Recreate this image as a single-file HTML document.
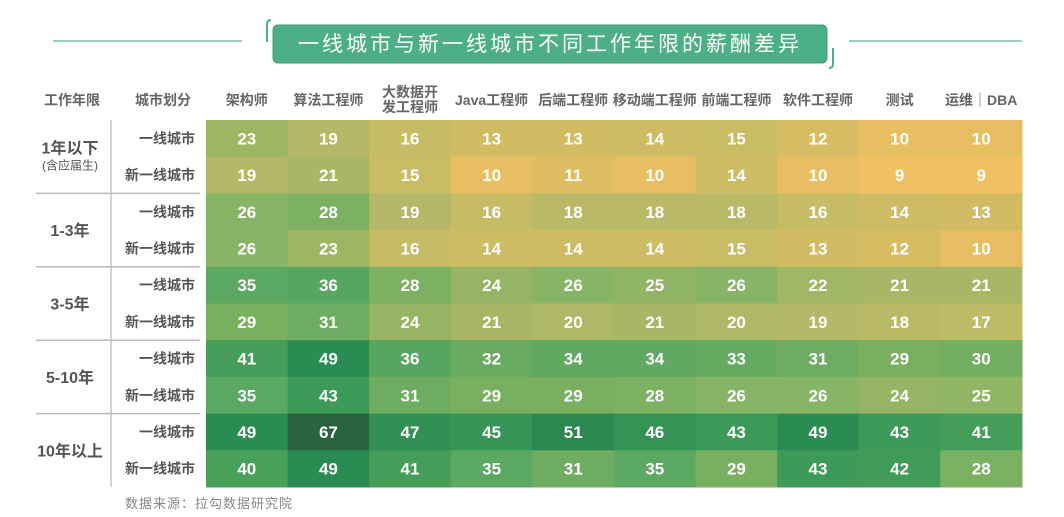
<!DOCTYPE html>
<html><head><meta charset="utf-8"><style>
body{margin:0;background:#fff;font-family:"Liberation Sans","Noto Sans CJK SC",sans-serif;}
#c{position:relative;width:1064px;height:517px;overflow:hidden;background:#fff}
</style></head><body>
<div id="c">
<svg id="s" width="1064" height="517">
  <line x1="53" y1="41" x2="242" y2="41" stroke="#7cc0a6" stroke-width="1.5"/>
  <line x1="849" y1="41" x2="1022" y2="41" stroke="#7cc0a6" stroke-width="1.5"/>
  <path d="M267 42 L267 24 Q267 20 271 20" fill="none" stroke="#4caf88" stroke-width="2"/>
  <path d="M833 48 L833 64 Q833 68 829 68" fill="none" stroke="#4caf88" stroke-width="2"/>
  <rect x="273" y="25" width="554" height="38" rx="5" fill="#4caf88" stroke="#3e9e78" stroke-width="1"/>
  <text x="550" y="51" text-anchor="middle" font-size="21" fill="#fff" letter-spacing="3">一线城市与新一线城市不同工作年限的薪酬差异</text>
  <text x="72" y="105" text-anchor="middle" font-size="14" font-weight="bold" fill="#666">工作年限</text>
  <text x="163" y="105" text-anchor="middle" font-size="14" font-weight="bold" fill="#666">城市划分</text>
  <line x1="111" y1="120" x2="111" y2="487" stroke="#aaa" stroke-width="1"/>
  <g id="cells"></g>
  <text x="125" y="508" font-size="13" fill="#888" letter-spacing="1">数据来源：拉勾数据研究院</text>
</svg>
</div>
<script>
const roles=["架构师","算法工程师","大数据开发工程师","Java工程师","后端工程师","移动端工程师","前端工程师","软件工程师","测试","运维｜DBA"];
const groups=["1年以下","1-3年","3-5年","5-10年","10年以上"];
const cities=["一线城市","新一线城市"];
const row1=[23,19,16,13,13,14,15,12,10,10];
const row2=[19,21,15,10,11,10,14,10,9,9];
const row3=[26,28,19,16,18,18,18,16,14,13];
const row4=[26,23,16,14,14,14,15,13,12,10];
const row5=[35,36,28,24,26,25,26,22,21,21];
const row6=[29,31,24,21,20,21,20,19,18,17];
const row7=[41,49,36,32,34,34,33,31,29,30];
const row8=[35,43,31,29,29,28,26,26,24,25];
const row9=[49,67,47,45,51,46,43,49,43,41];
const row10=[40,49,41,35,31,35,29,43,42,28];
const rows=[row1,row2,row3,row4,row5,row6,row7,row8,row9,row10];
const NS="http://www.w3.org/2000/svg";
const g=document.getElementById('cells');
const x0=206,x1=1022,y0=120,y1=487;
const cw=(x1-x0)/roles.length, rh=(y1-y0)/rows.length;
const xPos=i=>x0+i*cw, yPos=j=>y0+j*rh;
const stops=[[9,[240,192,98]],[12,[214,188,98]],[16,[198,188,102]],[19,[180,184,104]],[23,[156,182,100]],[26,[136,180,102]],[29,[120,176,96]],[35,[90,168,98]],[41,[68,158,90]],[49,[42,140,82]],[67,[42,100,62]]];
function color(v){
  if(v<=stops[0][0])return 'rgb('+stops[0][1]+')';
  for(let k=1;k<stops.length;k++){if(v<=stops[k][0]){const a=stops[k-1],b=stops[k];const t=(v-a[0])/(b[0]-a[0]);return 'rgb('+a[1].map((c,i)=>Math.round(c+(b[1][i]-c)*t)).join(',')+')';}}
  return 'rgb('+stops[stops.length-1][1]+')';
}
function mk(tag,attrs){const e=document.createElementNS(NS,tag);for(const k in attrs)e.setAttribute(k,attrs[k]);return e;}
roles.forEach((r,i)=>{
  const cx=xPos(i)+cw/2;
  if(r==="大数据开发工程师"){
    const t=mk('text',{x:cx,y:97,'text-anchor':'middle','font-size':14,'font-weight':'bold',fill:'#666'});
    
    
    t.textContent="大数据开";g.appendChild(t);
    const t2=mk('text',{x:cx,y:112,'text-anchor':'middle','font-size':14,'font-weight':'bold',fill:'#666'});
    
    
    t2.textContent="发工程师";g.appendChild(t2);
  }else{
    const t=mk('text',{x:cx,y:105,'text-anchor':'middle','font-size':14,'font-weight':'bold',fill:'#666'});
    
    
    t.textContent=r;g.appendChild(t);
  }
});
rows.forEach((row,j)=>{
  row.forEach((v,i)=>{
    const rc=mk('rect',{x:xPos(i),y:yPos(j),width:cw+0.5,height:rh+0.5,fill:color(v)});
    
    
    g.appendChild(rc);
    const t=mk('text',{x:xPos(i)+cw/2,y:yPos(j)+rh/2+6,'text-anchor':'middle','font-size':17,'font-weight':'bold',fill:'#fff'});
    
    
    t.textContent=v;g.appendChild(t);
  });
  const ct=mk('text',{x:195,y:yPos(j)+rh/2+5,'text-anchor':'end','font-size':14,'font-weight':'bold',fill:'#555'});
  
  
  ct.textContent=cities[j%2];g.appendChild(ct);
});
groups.forEach((gname,k)=>{
  const cy=yPos(2*k+1);
  if(k>0){const ln=mk('line',{x1:36,y1:yPos(2*k),x2:200,y2:yPos(2*k),stroke:'#bbb','stroke-width':1.5});
    
    
    g.appendChild(ln);}
  const t=mk('text',{x:70,y:k===0?cy-3:cy+6,'text-anchor':'middle','font-size':16,'font-weight':'bold',fill:'#555'});
  
  
  t.textContent=gname;g.appendChild(t);
  if(k===0){const t2=mk('text',{x:70,y:cy+13,'text-anchor':'middle','font-size':12,fill:'#555'});
    
    
    t2.textContent="(含应届生)";g.appendChild(t2);}
});
</script>
</body></html>
